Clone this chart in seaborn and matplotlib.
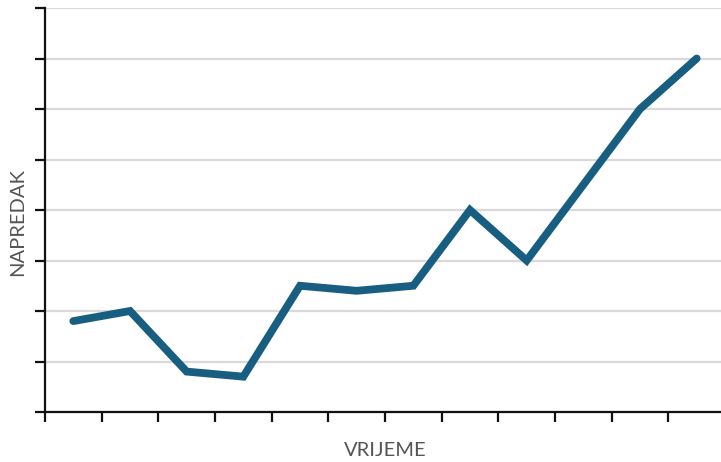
import matplotlib
matplotlib.use("Agg")
import matplotlib.pyplot as plt
import seaborn as sns
import pandas as pd

periods = list(range(12))
progress = [1.8, 2.0, 0.8, 0.7, 2.5, 2.4, 2.5, 4.0, 3.0, 4.5, 6.0, 7.0]
x_label = "VRIJEME"
y_label = "NAPREDAK"

df = pd.DataFrame({"t": periods, "v": progress})

sns.set_theme(style="white")
plt.rcParams["font.family"] = ["Lato", "DejaVu Sans"]

W, H = 721, 462
fig = plt.figure(figsize=(W / 100, H / 100), dpi=100)
ax = fig.add_axes([45 / W, 50 / H, 680 / W, 404 / H])

sns.lineplot(data=df, x="t", y="v", ax=ax, color="#175e80", linewidth=5.6,
             solid_capstyle="round", solid_joinstyle="miter", zorder=3)

ax.set_xlim(-0.5, 11.5)
ax.set_ylim(0, 8)
ax.set_xticks([i - 0.5 for i in range(12)])
ax.set_yticks(range(9))
ax.set_xticklabels([])
ax.set_yticklabels([])
ax.tick_params(axis="both", direction="out", length=7, width=1.6, color="#111111",
               bottom=True, left=True)
ax.yaxis.grid(True, color="#d9d9d9", linewidth=1.6)
ax.xaxis.grid(False)
for s in ["top", "right"]:
    ax.spines[s].set_visible(False)
for s in ["left", "bottom"]:
    ax.spines[s].set_color("#111111")
    ax.spines[s].set_linewidth(1.6)

ax.set_xlabel("")
ax.set_ylabel("")
fig.text(385.5 / W, 1 - 451 / H, x_label, fontsize=14.5, color="#555555",
         ha="center", va="center")
fig.text(17.5 / W, 1 - 222 / H, y_label, fontsize=14.5, color="#555555",
         ha="center", va="center", rotation=90)

fig.savefig("out.png", dpi=100)
